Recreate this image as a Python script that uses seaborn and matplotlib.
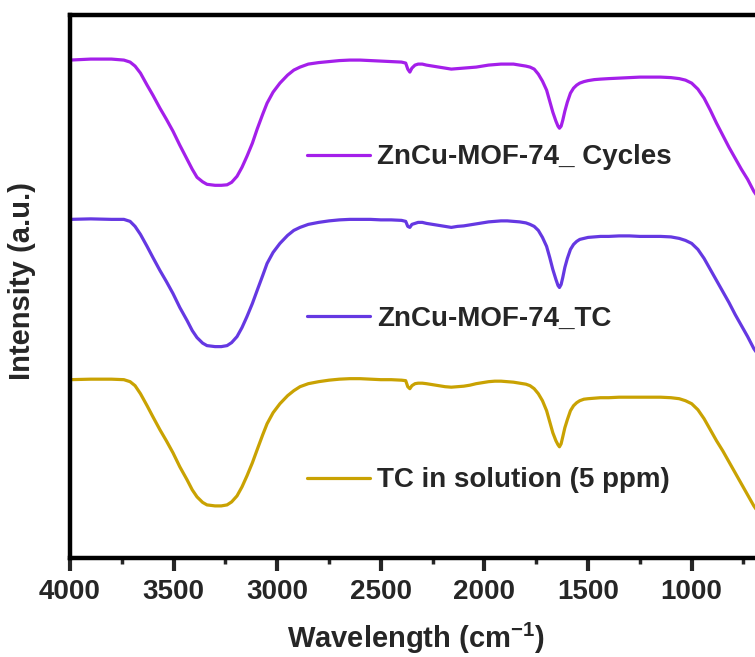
import matplotlib
matplotlib.use("Agg")
import matplotlib.pyplot as plt
import seaborn as sns
import pandas as pd
from matplotlib.ticker import MultipleLocator, NullLocator

# ---------------- data ----------------
wavenumber = [4000, 3900, 3800, 3740, 3710, 3686, 3660, 3628, 3600, 3566,
              3535, 3503, 3470, 3435, 3410, 3387, 3360, 3339, 3300, 3270,
              3242, 3220, 3194, 3170, 3146, 3120, 3097, 3070, 3049, 3020,
              2987, 2950, 2920, 2890, 2850, 2800, 2750, 2700, 2650, 2600,
              2550, 2500, 2450, 2400, 2380, 2370, 2360, 2350, 2335, 2320,
              2300, 2280, 2250, 2220, 2190, 2160, 2130, 2100, 2070, 2040,
              2010, 1980, 1950, 1920, 1890, 1860, 1830, 1800, 1780, 1760,
              1740, 1720, 1700, 1685, 1670, 1655, 1645, 1638, 1630, 1622,
              1612, 1600, 1585, 1570, 1555, 1540, 1520, 1500, 1470, 1440,
              1400, 1350, 1300, 1250, 1200, 1150, 1100, 1060, 1030, 1000,
              970, 940, 910, 880, 850, 820, 790, 760, 730, 700, 680, 650]

cycles = [497, 498, 498, 497, 495, 491, 484, 472, 462, 449,
          438, 426, 412, 398, 388, 380, 375.5, 373, 372, 372,
          372.5, 375, 381, 390, 401, 414, 428, 443, 454, 465,
          474, 482, 487, 490, 493, 494.5, 495.5, 496.5, 497, 497,
          496.5, 496, 495.5, 495, 494, 488, 485, 489, 492, 493,
          493, 492, 491, 490, 489, 488, 488.5, 489, 489.5, 490,
          491, 492, 492.5, 493, 493, 493, 492, 491, 490, 488,
          483, 476, 467, 456, 445, 436, 431, 429, 431, 437,
          446, 455, 464, 469, 472, 474, 475.5, 476.5, 477.5, 478,
          478.5, 479, 479.5, 480, 480, 480, 479.5, 478.5, 477, 474,
          468, 459, 447, 434, 422, 410, 399, 388, 378, 366, 360, 349]

tc_mof = [338, 338.5, 338, 338, 336, 331, 323, 311, 300, 287,
          276, 264, 250, 237, 227, 220, 214.5, 212, 211, 211,
          212, 215, 221, 230, 241, 254, 267, 282, 294, 305,
          314, 322, 327, 330, 333, 335, 336.5, 337.5, 338, 338,
          338, 337.5, 337.5, 337, 336, 331, 330, 333, 334, 335,
          335, 334, 333, 332, 331, 330, 331, 331.5, 332.5, 333.5,
          334.5, 335.5, 336, 336.5, 336.5, 336, 335.5, 334.5, 333, 331,
          327, 320, 311, 300, 288, 278, 272, 270, 273, 280,
          290, 299, 308, 313, 316, 318, 319, 320, 320.5, 321,
          321, 321.5, 321.5, 321, 321, 321, 320.5, 319, 317, 314,
          308, 299, 288, 277, 266, 255, 243, 232, 221, 209, 203, 192]

tc_solution = [178, 178.5, 178.5, 178, 176, 172, 164, 152, 141, 128,
               117, 105, 91, 78, 68, 61, 55.5, 53, 52, 52,
               53, 56, 62, 71, 82, 95, 108, 123, 134, 145,
               154, 162, 167, 171, 174, 176, 177.5, 178.5, 179, 179,
               178.5, 178, 178, 177.5, 177, 171, 169, 172, 174, 174.5,
               174.5, 174, 173, 172, 171, 170.5, 171, 171.5, 172.5, 174,
               175, 176, 176.5, 176.5, 176, 175.5, 174.5, 173.5, 172, 169,
               164, 157, 147, 136, 125, 117, 113, 111, 114, 121,
               130, 138, 147, 152, 155, 157, 158.5, 159, 159.5, 160,
               160, 160.5, 160.5, 160.5, 160.5, 160.5, 160, 159, 157, 154,
               148, 139, 128, 117, 107, 96, 85, 74, 63, 52, 46, 36]

labels = ["ZnCu-MOF-74_ Cycles", "ZnCu-MOF-74_TC", "TC in solution (5 ppm)"]
colors = ["#A41FEA", "#6538E2", "#C9A202"]
x_ticks = [4000, 3500, 3000, 2500, 2000, 1500, 1000]

# ---------------- style ----------------
sns.set_style("ticks")
plt.rcParams["font.family"] = ["Liberation Sans", "DejaVu Sans"]
plt.rcParams["font.weight"] = "bold"
plt.rcParams["mathtext.fontset"] = "custom"
plt.rcParams["mathtext.rm"] = "Liberation Sans:bold"
plt.rcParams["mathtext.bf"] = "Liberation Sans:bold"
plt.rcParams["mathtext.default"] = "bf"

fig = plt.figure(figsize=(7.55, 6.57), dpi=100)
ax = fig.add_axes([70 / 755, 1 - 558 / 657, 746 / 755, (558 - 15) / 657])

series = [cycles, tc_mof, tc_solution]
for vals, lab, col in zip(series, labels, colors):
    df = pd.DataFrame({"wn": wavenumber, "I": vals})
    sns.lineplot(data=df, x="wn", y="I", ax=ax, color=col, lw=2.3,
                 label=lab, sort=False, estimator=None)

ax.set_xlim(4000, 400)
ax.set_ylim(0, 542)
ax.set_xticks(x_ticks)
ax.xaxis.set_minor_locator(MultipleLocator(250))
ax.yaxis.set_major_locator(NullLocator())
ax.yaxis.set_minor_locator(NullLocator())
ax.tick_params(axis="x", which="major", direction="out", length=9, width=3,
               labelsize=20, pad=6, top=False)
ax.tick_params(axis="x", which="minor", direction="out", length=4.5, width=2.5,
               top=False)
for lab in ax.get_xticklabels():
    lab.set_fontweight("bold")
for sp in ax.spines.values():
    sp.set_linewidth(3.2)
    sp.set_color("black")

ax.set_xlabel("Wavelength (cm$^{-1}$)", fontsize=21, fontweight="bold")
ax.set_ylabel("Intensity (a.u.)", fontsize=21, fontweight="bold")
ax.xaxis.set_label_coords(0.464, -0.115)
ax.yaxis.set_label_coords(-0.045, 0.51)

leg = ax.legend(loc="upper left", bbox_to_anchor=(0.318, 0.762), frameon=False,
                fontsize=20, handlelength=2.27, handletextpad=0.25,
                labelspacing=4.88, borderaxespad=0, borderpad=0)
for t in leg.get_texts():
    t.set_fontweight("bold")
for h in leg.get_lines():
    h.set_linewidth(2.3)

fig.savefig("out.png", dpi=100)
